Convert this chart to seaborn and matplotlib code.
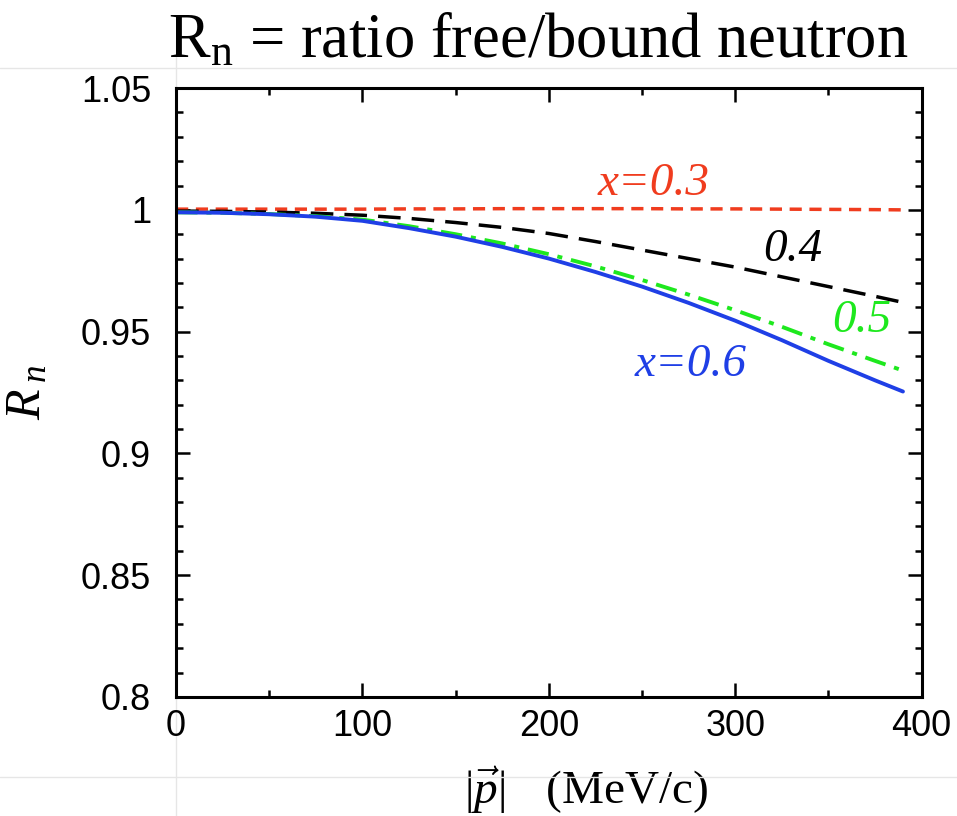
import matplotlib
matplotlib.use("Agg")
import matplotlib.pyplot as plt
import seaborn as sns
from matplotlib.lines import Line2D
from matplotlib.ticker import MultipleLocator, FuncFormatter

# momentum |p| (MeV/c) and ratio R_n for the four x values
p = [0, 25, 50, 75, 100, 125, 150, 175, 200, 225, 250, 275, 300, 325, 350, 375, 390]
r_x03 = [1.0003, 1.0003, 1.0003, 1.0003, 1.0003, 1.0004, 1.0004, 1.0005, 1.0005,
         1.0005, 1.0005, 1.0004, 1.0004, 1.0003, 1.0002, 1.0001, 1.0000]
r_x04 = [0.9995, 0.9994, 0.9991, 0.9986, 0.9978, 0.9965, 0.9948, 0.9928, 0.9903,
         0.9870, 0.9835, 0.9800, 0.9765, 0.9725, 0.9685, 0.9645, 0.9620]
r_x05 = [0.9990, 0.9988, 0.9983, 0.9974, 0.9960, 0.9933, 0.9900, 0.9862, 0.9818,
         0.9768, 0.9712, 0.9652, 0.9588, 0.9520, 0.9448, 0.9380, 0.9340]
r_x06 = [0.9990, 0.9988, 0.9982, 0.9972, 0.9955, 0.9925, 0.9890, 0.9848, 0.9800,
         0.9745, 0.9685, 0.9618, 0.9545, 0.9465, 0.9380, 0.9300, 0.9254]

sns.set_style("ticks")
plt.rcParams['font.family'] = ['Liberation Sans', 'DejaVu Sans']
plt.rcParams['mathtext.fontset'] = 'custom'
plt.rcParams['mathtext.rm'] = 'Liberation Serif'
plt.rcParams['mathtext.it'] = 'Liberation Serif:italic'
plt.rcParams['text.color'] = 'black'
plt.rcParams['axes.labelcolor'] = 'black'
plt.rcParams['xtick.color'] = 'black'
plt.rcParams['ytick.color'] = 'black'

fig = plt.figure(figsize=(9.57, 8.16), dpi=100)
ax = fig.add_axes([0.184, 0.146, 0.779, 0.746])

red = "#f03c1e"
green = "#1ee81e"
blue = "#1f3fe6"

sns.lineplot(x=p, y=r_x03, ax=ax, color=red, linewidth=2.5, linestyle=(0, (3.5, 2.2)))
sns.lineplot(x=p, y=r_x04, ax=ax, color="black", linewidth=2.5, linestyle=(0, (6.5, 3.2)))
sns.lineplot(x=p, y=r_x05, ax=ax, color=green, linewidth=2.8, linestyle=(0, (5.5, 2.3, 1.3, 2.3)))
sns.lineplot(x=p, y=r_x06, ax=ax, color=blue, linewidth=2.8)

ax.set_xlim(0, 400)
ax.set_ylim(0.8, 1.05)
ax.xaxis.set_major_locator(MultipleLocator(100))
ax.xaxis.set_minor_locator(MultipleLocator(50))
ax.yaxis.set_major_locator(MultipleLocator(0.05))
ax.yaxis.set_minor_locator(MultipleLocator(0.01))
ax.yaxis.set_major_formatter(FuncFormatter(lambda v, pos: f"{v:.2f}".rstrip("0").rstrip(".")))
ax.tick_params(which="both", direction="in", top=True, right=True, width=1.8)
ax.tick_params(which="major", length=10, labelsize=26)
ax.tick_params(axis="y", which="major", pad=18)
ax.tick_params(axis="x", which="major", pad=9)
ax.tick_params(which="minor", length=5)
for s in ax.spines.values():
    s.set_linewidth(2.2)
    s.set_color("black")

ax.set_xlabel(r"$|\vec{\mathit{p}}|$   $\mathrm{(MeV/c)}$", fontsize=34)
ax.xaxis.set_label_coords(0.55, -0.112, transform=ax.transAxes)
ax.xaxis.label.set_va("top")
ax.set_ylabel(r"$R\,_{n}$", fontsize=36, labelpad=22)

txt = dict(fontsize=34, ha="center", va="center", family="Liberation Serif", style="italic")
ax.text(256, 1.0107, "x=0.3", color=red, **txt)
ax.text(331, 0.9835, "0.4", color="black", **txt)
ax.text(368, 0.9544, "0.5", color=green, **txt)
ax.text(276, 0.9365, "x=0.6", color=blue, **txt)

fig.text(0.562, 0.930, r"$\mathrm{R_n}$ = ratio free/bound neutron", fontsize=45,
         family="Liberation Serif", ha="center", va="baseline")

# faint slide-frame lines from the original screenshot
fig.add_artist(Line2D([0, 1], [1 - 68 / 816] * 2, color="#e6e6e6", lw=1))
fig.add_artist(Line2D([0, 1], [1 - 777 / 816] * 2, color="#e6e6e6", lw=1))
fig.add_artist(Line2D([0.184, 0.184], [0, 1 - 40 / 816], color="#e6e6e6", lw=1, zorder=0))

fig.savefig("out.png", dpi=100)
